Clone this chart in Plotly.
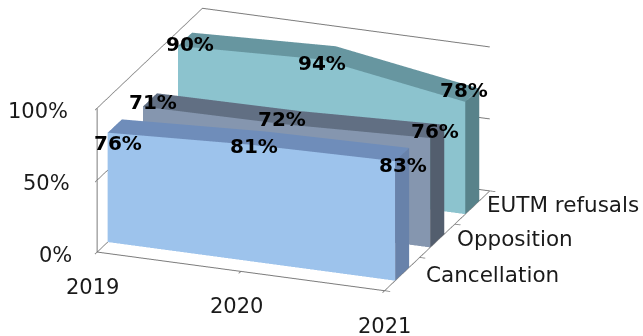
import plotly.graph_objects as go

years = ["2019", "2020", "2021"]
series = ["Cancellation", "Opposition", "EUTM refusals"]
cancellation = [0.76, 0.81, 0.83]
opposition = [0.71, 0.72, 0.76]
eutm_refusals = [0.90, 0.94, 0.78]
value_ticks = [0, 0.5, 1.0]
value_tick_text = ["0%", "50%", "100%"]

colors = {
    "Cancellation": ("#9DC3EC", "#6F8DBA", "#6882AA"),
    "Opposition": ("#8596AF", "#616F83", "#535E6E"),
    "EUTM refusals": ("#8CC3CE", "#6796A0", "#58828A"),
}
# pixel nudges of the labels (style only)
label_nudge = {
    "Cancellation": [(3, -17), (-4, -8), (1, -10)],
    "Opposition": [(3, -2), (-12, -1), (-2, 0)],
    "EUTM refusals": [(5, -5), (-7, -10), (-8, 5)],
}
series_label_shift = [(22, 0), (18, 2), (13, 3)]
year_label_shift = [-5, -4, 0]
value_label_shift = [-23, -25, -27]

FONT = "DejaVu Sans"
LINE = "#7c7c7c"
GAP = 0.3  # depth gap inside each series slot


def ribbon(vals, slot, cols):
    front, top, side = cols
    y0, y1 = slot + GAP, slot + 1 - GAP
    n = len(vals)
    xs, ys, zs = [], [], []
    for i, v in enumerate(vals):
        xs += [i, i, i, i]
        ys += [y0, y0, y1, y1]
        zs += [0, v, v, 0]
    I, J, K, fc = [], [], [], []
    for i in range(n - 1):
        a, b, c = 4 * i, 4 * i + 1, 4 * i + 2
        a2, b2, c2 = a + 4, b + 4, c + 4
        I += [a, a]; J += [b, b2]; K += [b2, a2]; fc += [front, front]
        I += [b, b]; J += [b2, c2]; K += [c2, c]; fc += [top, top]
    a, b, c, d = 4 * (n - 1), 4 * (n - 1) + 1, 4 * (n - 1) + 2, 4 * (n - 1) + 3
    I += [a, a]; J += [b, c]; K += [c, d]; fc += [side, side]
    return go.Mesh3d(x=xs, y=ys, z=zs, i=I, j=J, k=K, facecolor=fc,
                     flatshading=True, hoverinfo="skip", showscale=False,
                     lighting=dict(ambient=1, diffuse=0, specular=0, roughness=1, fresnel=0))


fig = go.Figure()
all_vals = [cancellation, opposition, eutm_refusals]
for s, (name, vals) in enumerate(zip(series, all_vals)):
    fig.add_trace(ribbon(vals, s, colors[name]))

annotations = []
# data labels
for s, (name, vals) in enumerate(zip(series, all_vals)):
    for i, v in enumerate(vals):
        dx, dy = label_nudge[name][i]
        annotations.append(dict(x=i, y=s + 0.5, z=v, text=f"<b>{round(v*100)}%</b>",
                                showarrow=False, xshift=dx, yshift=dy,
                                font=dict(family=FONT, size=20, color="black")))
tick_font = dict(family=FONT, size=21, color="#1a1a1a")
# value axis labels
for k, (t, lab) in enumerate(zip(value_ticks, value_tick_text)):
    annotations.append(dict(x=0, y=0, z=t, text=lab, showarrow=False, xanchor="right",
                            xshift=value_label_shift[k], yshift=-3, font=tick_font))
# category axis labels
for i, lab in enumerate(years):
    annotations.append(dict(x=i, y=0, z=0, text=lab, showarrow=False,
                            xshift=year_label_shift[i], yshift=-35, font=tick_font))
# series axis labels
for s, lab in enumerate(series):
    sx, sy = series_label_shift[s]
    annotations.append(dict(x=len(years) - 1, y=s + 0.5, z=0, text=lab, showarrow=False,
                            xanchor="left", xshift=sx, yshift=sy,
                            font=dict(family=FONT, size=21.5, color="#1a1a1a")))

axis_common = dict(showbackground=False, zeroline=False, showspikes=False,
                   showline=True, linecolor=LINE, linewidth=2,
                   ticks="outside", tickcolor=LINE, ticklen=6, tickwidth=2,
                   showticklabels=False, title=dict(text=""))

fig.update_layout(
    width=643, height=336, margin=dict(l=0, r=0, t=0, b=0),
    paper_bgcolor="white", showlegend=False,
    scene=dict(
        domain=dict(x=[0, 0.913], y=[0.116, 0.994]),
        xaxis=dict(range=[0, 2], tickvals=[0, 1, 2], showgrid=False, **axis_common),
        yaxis=dict(range=[0, 3], tickvals=[0, 1, 2, 3], showgrid=False, **axis_common),
        zaxis=dict(range=[0, 1], tickvals=value_ticks, showgrid=True,
                   gridcolor=LINE, gridwidth=2, **axis_common),
        aspectmode="manual", aspectratio=dict(x=2.082, y=2.025, z=1.045),
        camera=dict(eye=dict(x=0.767, y=-2.037, z=0.832), up=dict(x=0, y=0, z=1),
                    center=dict(x=0, y=0, z=0), projection=dict(type="orthographic")),
        annotations=annotations,
        dragmode=False,
    ),
)

fig.write_html("out.html")
